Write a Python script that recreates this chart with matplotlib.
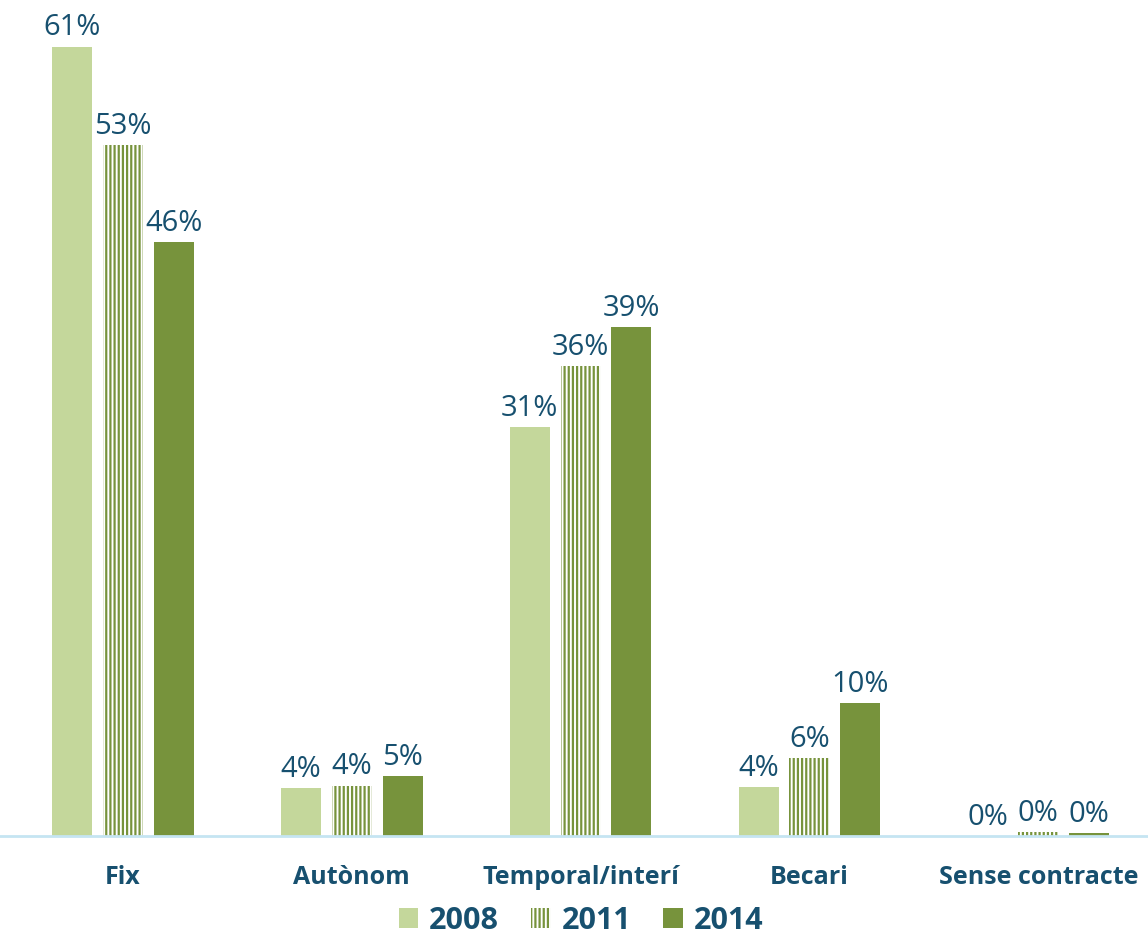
import matplotlib.pyplot as plt
import numpy as np
from matplotlib.patches import Patch

plt.rcParams['font.family'] = ['Open Sans', 'DejaVu Sans']
plt.rcParams['hatch.linewidth'] = 1.6

categories = ["Fix", "Autònom", "Temporal/interí", "Becari", "Sense contracte"]
years = ["2008", "2011", "2014"]
v2008 = [61.0, 3.7, 31.6, 3.8, 0.0]
v2011 = [53.4, 3.9, 36.3, 6.0, 0.3]
v2014 = [45.9, 4.6, 39.3, 10.3, 0.25]
labels2008 = ["61%", "4%", "31%", "4%", "0%"]
labels2011 = ["53%", "4%", "36%", "6%", "0%"]
labels2014 = ["46%", "5%", "39%", "10%", "0%"]

LIGHT = "#C4D79B"
DARK = "#77933C"
TEXT = "#17506F"

fig = plt.figure(figsize=(11.48, 9.39), dpi=100)
ax = fig.add_axes([0, 103 / 939, 1, 836 / 939])

x = np.arange(len(categories))
w = 0.175
step = 0.222

b1 = ax.bar(x - step, v2008, w, color=LIGHT, linewidth=0)
b2 = ax.bar(x, v2011, w, facecolor="white", edgecolor=DARK, hatch="||||", linewidth=0)
b3 = ax.bar(x + step, v2014, w, color=DARK, linewidth=0)

for bars, labs in [(b1, labels2008), (b2, labels2011), (b3, labels2014)]:
    for bar, lab in zip(bars, labs):
        ax.annotate(lab, (bar.get_x() + bar.get_width() / 2, bar.get_height()),
                    xytext=(0, 3), textcoords="offset points",
                    ha="center", va="bottom", fontsize=21, color=TEXT)

ax.set_xlim(-0.537, 4.479)
ax.set_ylim(0, 64.6)
for s in ["top", "right", "left"]:
    ax.spines[s].set_visible(False)
ax.spines["bottom"].set_color("#C5E5F2")
ax.spines["bottom"].set_linewidth(2)
ax.set_yticks([])
ax.set_xticks(x)
ax.set_xticklabels(categories, fontsize=18, fontweight="bold", color=TEXT)
ax.tick_params(axis="x", length=0, pad=21)

handles = [Patch(facecolor=LIGHT, linewidth=0),
           Patch(facecolor="white", edgecolor=DARK, hatch="||||", linewidth=0),
           Patch(facecolor=DARK, linewidth=0)]
leg = fig.legend(handles, years, loc="center", bbox_to_anchor=(581 / 1148, 18 / 939),
                 ncol=3, frameon=False, handlelength=0.65, handleheight=0.65,
                 handletextpad=0.35, columnspacing=1.05,
                 prop={"size": 22, "weight": "bold"})
for t in leg.get_texts():
    t.set_color(TEXT)

plt.savefig("out.png", dpi=100)
